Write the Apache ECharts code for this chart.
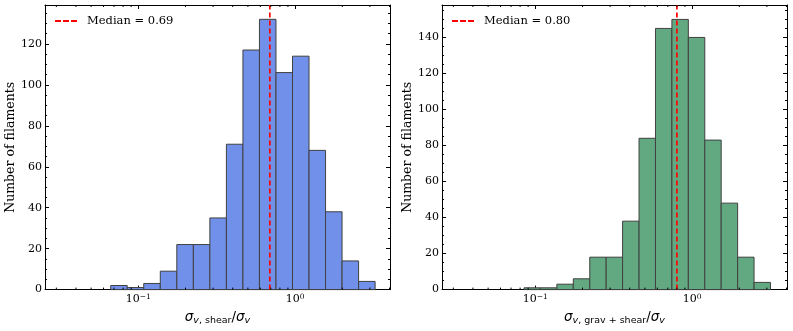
<!DOCTYPE html>
<html>
<head>
<meta charset="utf-8">
<script src="https://cdn.jsdelivr.net/npm/echarts@6/dist/echarts.min.js"></script>
<style>
  html, body { margin: 0; padding: 0; background: #fff; }
  #chart { width: 793px; height: 331px; }
</style>
</head>
<body>
<div id="chart"></div>
<script>
// histogram bin edges (log spaced) and counts
var leftEdges = [0.0667, 0.0850, 0.1083, 0.1381, 0.1760, 0.2244, 0.2860, 0.3646, 0.4648,
                 0.5924, 0.7551, 0.9625, 1.227, 1.564, 1.993, 2.541, 3.239];
var leftCounts = [2, 1, 3, 9, 22, 22, 35, 71, 117, 132, 106, 114, 68, 38, 14, 4];
var rightEdges = [0.0847, 0.1078, 0.1373, 0.1747, 0.2225, 0.2831, 0.3604, 0.4588,
                  0.5840, 0.7434, 0.9463, 1.205, 1.533, 1.952, 2.484, 3.162];
var rightCounts = [1, 1, 3, 6, 18, 18, 38, 84, 145, 150, 140, 83, 48, 18, 4];
var medians = [0.69, 0.80];
var medianLabels = ['Median = 0.69', 'Median = 0.80'];
var yMax = [139, 158];
var xMin = 0.0254, xMax = 4.03;
var minorX = [0.03, 0.04, 0.05, 0.06, 0.07, 0.08, 0.09,
              0.2, 0.3, 0.4, 0.5, 0.6, 0.7, 0.8, 0.9, 2, 3, 4];

var serif = 'DejaVu Serif';
var colors = ['#7190e9', '#62a881'];
var edgeColor = '#404040';

function binData(edges, counts) {
  var out = [];
  for (var i = 0; i < counts.length; i++) out.push([edges[i], edges[i + 1], counts[i]]);
  return out;
}

function powLabel(v) {
  var l = Math.log10(v);
  var e = Math.round(l);
  if (Math.abs(l - e) > 1e-6) return '';
  return '{b|10}{s|' + (e < 0 ? '\u2212' + (-e) : e) + '}';
}

var xLabelRich = {
  b: { fontFamily: serif, fontSize: 11, color: '#000', lineHeight: 14 },
  s: { fontFamily: serif, fontSize: 7.5, color: '#000', lineHeight: 8, verticalAlign: 'top' }
};

var nameRich = {
  m: { fontFamily: 'DejaVu Sans', fontStyle: 'italic', fontSize: 13.5, color: '#000', lineHeight: 16, verticalAlign: 'top' },
  i: { fontFamily: 'DejaVu Sans', fontStyle: 'italic', fontSize: 9.5, color: '#000', lineHeight: 9, verticalAlign: 'bottom' },
  r: { fontFamily: 'DejaVu Sans', fontSize: 9.5, color: '#000', lineHeight: 9, verticalAlign: 'bottom' },
  n: { fontFamily: 'DejaVu Sans', fontSize: 13.5, color: '#000', lineHeight: 16, verticalAlign: 'top' }
};
var xNames = [
  '{m|σ}{i|v}{r|, shear}{n|/}{m|σ}{i|v}',
  '{m|σ}{i|v}{r|, grav + shear}{n|/}{m|σ}{i|v}'
];

var grids = [
  { left: 45, right: 403, top: 5, bottom: 37 },
  { left: 442, right: 6, top: 5, bottom: 37 }
];

var xAxes = [], yAxes = [], series = [], legends = [];

// log minor ticks on the bottom and top edges
function tickSeries(g) {
  return {
    type: 'custom',
    xAxisIndex: g * 2, yAxisIndex: g * 2,
    silent: true, z: 5,
    data: minorX.map(function (v) { return [v]; }),
    renderItem: function (params, api) {
      var cs = params.coordSys;
      var x = api.coord([api.value(0), 0])[0];
      var yb = cs.y + cs.height, yt = cs.y;
      return {
        type: 'group',
        children: [
          { type: 'line', shape: { x1: x, y1: yb, x2: x, y2: yb - 2 }, style: { stroke: '#000', lineWidth: 1 } },
          { type: 'line', shape: { x1: x, y1: yt, x2: x, y2: yt + 2 }, style: { stroke: '#000', lineWidth: 1 } }
        ]
      };
    }
  };
}

[0, 1].forEach(function (g) {
  var baseX = {
    type: 'log', logBase: 10, gridIndex: g, min: xMin, max: xMax,
    splitLine: { show: false },
    axisLine: { show: true, onZero: false, lineStyle: { color: '#000', width: 1 } },
    axisTick: { inside: true, length: 4, lineStyle: { color: '#000' } }
  };
  xAxes.push(Object.assign({}, baseX, {
    position: 'bottom',
    name: xNames[g], nameLocation: 'middle', nameGap: 14,
    nameTextStyle: { rich: nameRich },
    axisLabel: {
      margin: 3, showMinLabel: false, showMaxLabel: false, rich: xLabelRich,
      formatter: powLabel
    }
  }));
  xAxes.push(Object.assign({}, baseX, { position: 'top', axisLabel: { show: false } }));

  var baseY = {
    type: 'value', gridIndex: g, min: 0, max: yMax[g], interval: 20,
    splitLine: { show: false },
    axisLine: { show: true, onZero: false, lineStyle: { color: '#000', width: 1 } },
    axisTick: { inside: true, length: 4, lineStyle: { color: '#000' } },
    minorTick: { show: true, splitNumber: 4, length: 2, lineStyle: { color: '#000' } }
  };
  yAxes.push(Object.assign({}, baseY, {
    position: 'left',
    name: 'Number of filaments', nameLocation: 'middle', nameGap: 28,
    nameTextStyle: { fontFamily: serif, fontSize: 12.5, color: '#000' },
    axisLabel: { margin: 3, showMaxLabel: false, fontFamily: serif, fontSize: 11, color: '#000' }
  }));
  yAxes.push(Object.assign({}, baseY, { position: 'right', axisLabel: { show: false } }));

  var edges = g === 0 ? leftEdges : rightEdges;
  var counts = g === 0 ? leftCounts : rightCounts;
  series.push({
    type: 'custom',
    xAxisIndex: g * 2, yAxisIndex: g * 2,
    data: binData(edges, counts),
    encode: { x: [0, 1], y: 2 },
    renderItem: function (params, api) {
      var p0 = api.coord([api.value(0), 0]);
      var p1 = api.coord([api.value(1), api.value(2)]);
      return {
        type: 'rect',
        shape: { x: p0[0], y: p1[1], width: p1[0] - p0[0], height: p0[1] - p1[1] },
        style: { fill: colors[g], stroke: edgeColor, lineWidth: 1 }
      };
    }
  });
  series.push({
    name: medianLabels[g],
    type: 'line',
    xAxisIndex: g * 2, yAxisIndex: g * 2,
    data: [[medians[g], 0], [medians[g], yMax[g]]],
    symbol: 'none', z: 4,
    lineStyle: { color: '#ff0000', width: 1.7, type: [5, 3] },
    itemStyle: { color: '#ff0000' }
  });
  series.push(tickSeries(g));
  legends.push({
    data: [{
      name: medianLabels[g],
      icon: 'path://M0,0h6v2h-6z M8,0h6v2h-6z M16,0h6v2h-6z'
    }],
    left: grids[g].left + 10, top: 15,
    padding: 0,
    orient: 'vertical',
    itemWidth: 22, itemHeight: 2,
    textStyle: { fontFamily: serif, fontSize: 11.5, color: '#000', padding: [0, 0, 0, 5] },
    selectedMode: false
  });
});

var option = {
  animation: false,
  backgroundColor: '#fff',
  grid: grids,
  xAxis: xAxes,
  yAxis: yAxes,
  legend: legends,
  series: series
};

var myChart = echarts.init(document.getElementById('chart'));
myChart.setOption(option);
</script>
</body>
</html>
